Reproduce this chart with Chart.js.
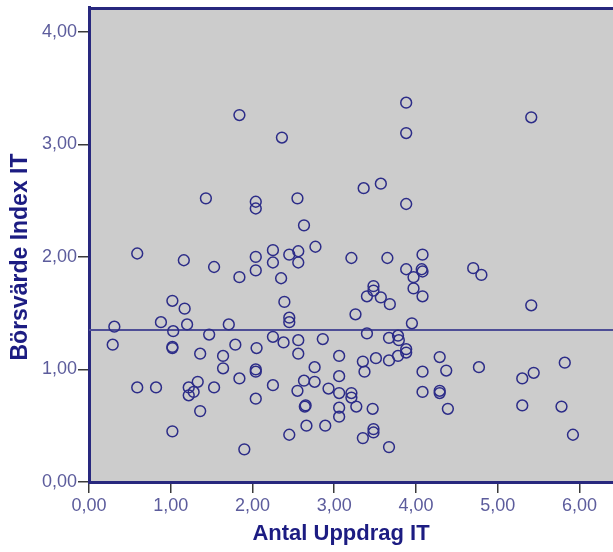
<!DOCTYPE html>
<html>
<head>
<meta charset="utf-8">
<script src="https://cdn.jsdelivr.net/npm/chart.js@4/dist/chart.umd.min.js"></script>
<style>
  html, body { margin: 0; padding: 0; background: #ffffff; overflow: hidden; }
  #wrap { width: 613px; height: 552px; }
</style>
</head>
<body>
<div id="wrap"><canvas id="c" width="613" height="552"></canvas></div>
<script>
// Antal Uppdrag IT (x) and Börsvärde Index IT (y)
const xValues = [
  1.84, 2.36, 3.88, 3.88, 5.41,
  1.43, 2.04, 2.04, 2.55, 2.63, 3.36, 3.57, 3.88,
  0.59, 1.16, 1.53, 1.84, 2.04, 2.04, 2.25, 2.25, 2.45, 2.56, 2.56, 2.77, 2.35, 3.21,
  3.65, 3.88, 4.08, 4.08, 4.07, 4.70, 4.80,
  3.97, 3.97, 4.08, 3.48, 3.48, 3.40, 3.57, 3.68, 3.26, 3.95, 5.41,
  3.40, 3.67, 3.78, 3.79, 3.88, 3.88, 3.78, 3.67, 3.51, 3.35, 3.37, 3.06, 3.06,
  4.29, 4.08, 4.37, 4.77, 5.30, 5.44, 5.82,
  4.08, 4.29, 4.29, 4.39, 5.30, 5.78, 5.92,
  3.06, 3.06, 3.06, 3.21, 3.21, 3.27, 3.47, 3.48, 3.48, 3.35, 3.67,
  2.39, 1.02, 1.17, 0.88, 1.20, 1.03, 0.31, 0.29, 1.47, 1.71, 2.45, 2.45,
  1.02, 1.02, 1.36, 1.79, 1.64, 1.64, 2.05, 2.25, 2.38, 2.56, 2.86, 2.56,
  2.76, 2.63, 2.76, 2.93,
  2.55, 2.64, 2.65, 2.66, 2.89, 2.45,
  2.04, 2.04, 2.25, 2.04, 1.84, 1.53, 1.33, 1.22, 1.28, 1.22, 1.36, 0.59, 0.82, 1.02, 1.90
];
const yValues = [
  3.26, 3.06, 3.37, 3.10, 3.24,
  2.52, 2.49, 2.43, 2.52, 2.28, 2.61, 2.65, 2.47,
  2.03, 1.97, 1.91, 1.82, 2.00, 1.88, 2.06, 1.95, 2.02, 2.05, 1.95, 2.09, 1.81, 1.99,
  1.99, 1.89, 2.02, 1.87, 1.89, 1.90, 1.84,
  1.82, 1.72, 1.65, 1.74, 1.70, 1.65, 1.64, 1.58, 1.49, 1.41, 1.57,
  1.32, 1.28, 1.30, 1.26, 1.18, 1.15, 1.12, 1.08, 1.10, 1.07, 0.98, 1.12, 0.94,
  1.11, 0.98, 0.99, 1.02, 0.92, 0.97, 1.06,
  0.80, 0.81, 0.79, 0.65, 0.68, 0.67, 0.42,
  0.79, 0.66, 0.58, 0.79, 0.75, 0.67, 0.65, 0.47, 0.44, 0.39, 0.31,
  1.60, 1.61, 1.54, 1.42, 1.40, 1.34, 1.38, 1.22, 1.31, 1.40, 1.46, 1.42,
  1.20, 1.19, 1.14, 1.22, 1.12, 1.01, 1.19, 1.29, 1.24, 1.26, 1.27, 1.14,
  1.02, 0.90, 0.89, 0.83,
  0.81, 0.67, 0.68, 0.50, 0.50, 0.42,
  1.00, 0.98, 0.86, 0.74, 0.92, 0.84, 0.89, 0.84, 0.80, 0.77, 0.63, 0.84, 0.84, 0.45, 0.29
];
const meanValue = 1.35;           // horizontal fit line (mean)
const xRange = [0, 6.41];
const yRange = [0, 4.22];
const xTickValues = [0, 1, 2, 3, 4, 5, 6];
const yTickValues = [0, 1, 2, 3, 4];
const xTitle = 'Antal Uppdrag IT';
const yTitle = 'Börsvärde Index IT';

const points = xValues.map((x, i) => ({ x: x, y: yValues[i] }));
const meanLine = [{ x: xRange[0], y: meanValue }, { x: xRange[1], y: meanValue }];

const fmt = v => Number(v).toFixed(2).replace('.', ',');
const tickColor = '#5c5c9c';
const titleColor = '#1c1c82';
const navy = '#28287e';
const fontFam = 'Arial, "Liberation Sans", sans-serif';

const plotDecor = {
  id: 'plotDecor',
  beforeDraw(chart) {
    const { ctx, chartArea: a } = chart;
    ctx.save();
    ctx.fillStyle = '#cccccc';
    ctx.fillRect(a.left, a.top, a.right - a.left, a.bottom - a.top);
    ctx.restore();
  },
  afterDraw(chart) {
    const { ctx, chartArea: a } = chart;
    ctx.save();
    // top frame line
    ctx.strokeStyle = navy;
    ctx.lineWidth = 3;
    ctx.beginPath();
    ctx.moveTo(a.left, a.top + 1.5);
    ctx.lineTo(a.right, a.top + 1.5);
    ctx.stroke();
    // axis titles (placed as in the SPSS original)
    ctx.fillStyle = titleColor;
    ctx.textAlign = 'center';
    ctx.textBaseline = 'alphabetic';
    ctx.font = 'bold 22px ' + fontFam;
    ctx.fillText(xTitle, 341, 540);
    ctx.translate(27, 257);
    ctx.rotate(-Math.PI / 2);
    ctx.font = 'bold 23px ' + fontFam;
    ctx.fillText(yTitle, 0, 0);
    ctx.restore();
  }
};

new Chart(document.getElementById('c'), {
  type: 'scatter',
  data: {
    datasets: [
      {
        type: 'line',
        data: meanLine,
        borderColor: '#4e4e96',
        borderWidth: 2,
        pointRadius: 0,
        fill: false,
        order: 2
      },
      {
        data: points,
        pointStyle: 'circle',
        pointRadius: 5.4,
        pointBorderWidth: 1.5,
        borderColor: '#2c2c88',
        backgroundColor: 'rgba(0,0,0,0)',
        pointBackgroundColor: 'rgba(0,0,0,0)',
        pointBorderColor: '#2c2c88',
        order: 1
      }
    ]
  },
  options: {
    responsive: false,
    animation: false,
    devicePixelRatio: 1,
    layout: { autoPadding: false, padding: { top: 7, right: 0, bottom: 0, left: 0 } },
    plugins: { legend: { display: false }, tooltip: { enabled: false } },
    scales: {
      x: {
        type: 'linear',
        min: xRange[0],
        max: xRange[1],
        afterBuildTicks: s => { s.ticks = xTickValues.map(v => ({ value: v })); },
        afterFit: s => { s.height = 70; s.paddingLeft = 0; s.paddingRight = 0; },
        ticks: {
          callback: v => fmt(v),
          color: tickColor,
          font: { family: fontFam, size: 18 },
          padding: 2,
          maxRotation: 0
        },
        grid: { drawOnChartArea: false, drawTicks: true, tickLength: 11, color: '#3a3a3a', lineWidth: 1.5 },
        border: { display: true, color: navy, width: 3 },
        title: { display: false, text: xTitle }
      },
      y: {
        type: 'linear',
        min: yRange[0],
        max: yRange[1],
        afterBuildTicks: s => { s.ticks = yTickValues.map(v => ({ value: v })); },
        afterFit: s => { s.width = 89; s.paddingTop = 0; s.paddingBottom = 0; },
        ticks: {
          callback: v => fmt(v),
          color: tickColor,
          font: { family: fontFam, size: 18 },
          padding: 1
        },
        grid: { drawOnChartArea: false, drawTicks: true, tickLength: 11, color: '#3a3a3a', lineWidth: 1.5 },
        border: { display: true, color: navy, width: 3 },
        title: { display: false, text: yTitle }
      }
    }
  },
  plugins: [plotDecor]
});
</script>
</body>
</html>
